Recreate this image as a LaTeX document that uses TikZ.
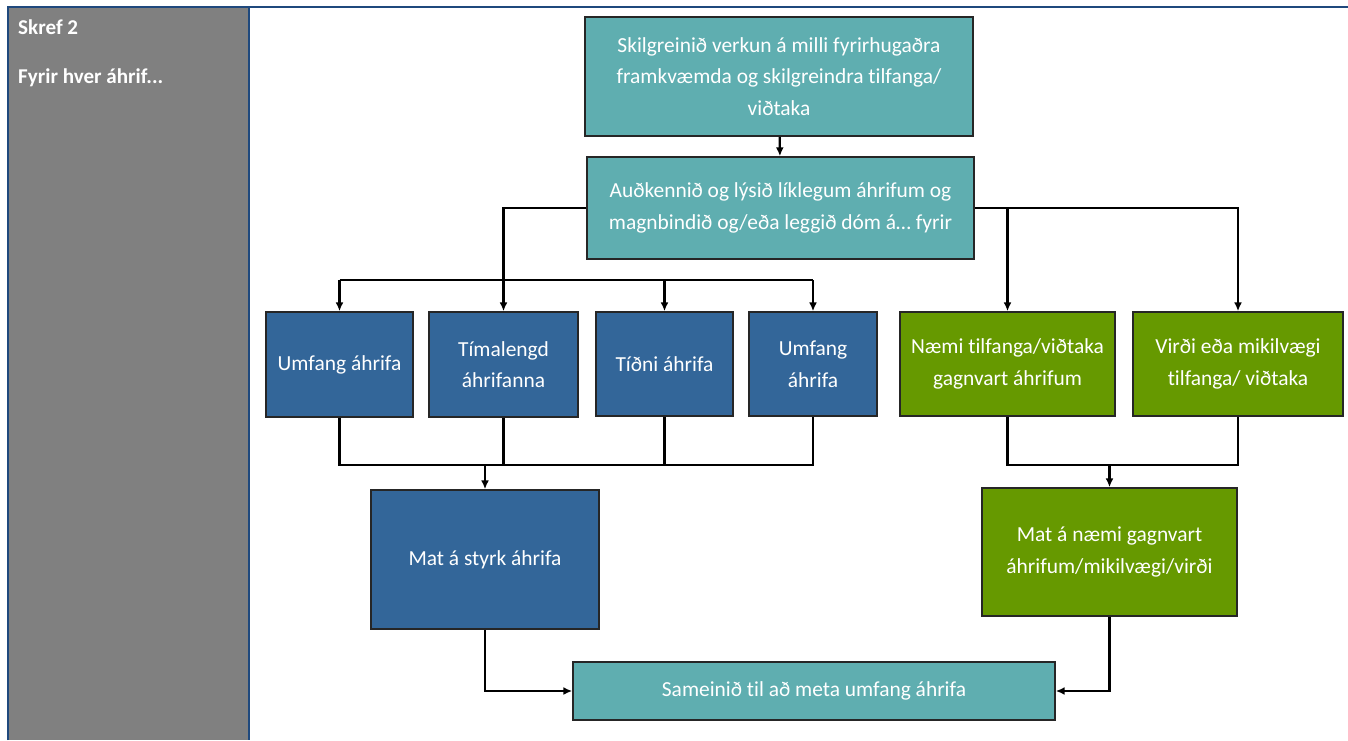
\documentclass[tikz,border=0pt]{standalone}
\usepackage{fontspec}
\setmainfont{Carlito}[RawFeature={-liga}]
\usepackage{tikz}
\usetikzlibrary{arrows.meta, positioning, calc}
\definecolor{matteal}{HTML}{5FAEB0}
\definecolor{matblue}{HTML}{336699}
\definecolor{matgreen}{HTML}{669900}
\definecolor{matgrey}{HTML}{808080}
\definecolor{matframe}{HTML}{1F497D}

\tikzset{
  box/.style={draw=black!85, line width=0.9pt, text=white, align=center,
    inner sep=2pt, font=\fontsize{12.2}{18}\selectfont},
  tealbox/.style={box, fill=matteal},
  bluebox/.style={box, fill=matblue},
  greenbox/.style={box, fill=matgreen},
  link/.style={black, line width=1.3pt},
  arr/.style={link, -{Latex[length=5pt, width=4.5pt]}},
  celltext/.style={text=white, anchor=base west, font=\fontsize{12}{14}\selectfont\bfseries}
}

\begin{document}
\begin{tikzpicture}[x=0.02cm, y=-0.02cm]
  \useasboundingbox (0,0) rectangle (1348,740);

  % table cell on the left
  \fill[matgrey] (8,7) rectangle (249,740);
  \draw[matframe, line width=1.2pt] (8,740) -- (8,7) -- (1348,7);
  \draw[matframe, line width=1.2pt] (249,7) -- (249,740);
  \node[celltext] (skref) at (12,35) {Skref 2};
  \node[celltext] (fyrir) at (12,84) {Fyrir hver áhrif...};

  % top of the flow
  \node[tealbox, minimum width=388*0.02cm, minimum height=119*0.02cm] (skil) at (779,76.5)
    {Skilgreinið verkun á milli fyrirhugaðra\\framkvæmda og skilgreindra tilfanga/\\viðtaka};
  \node[tealbox, minimum width=387*0.02cm, minimum height=102*0.02cm] (aud) at (780.5,208)
    {Auðkennið og lýsið líklegum áhrifum og\\magnbindið og/eða leggið dóm á\ldots{} fyrir};

  % the four blue factors
  \node[bluebox, minimum width=147*0.02cm, minimum height=105*0.02cm] (umf) at (339.5,364.5) {Umfang áhrifa};
  \node[bluebox, minimum width=149*0.02cm, minimum height=105*0.02cm] (tima) at (503.5,364.5) {Tímalengd\\áhrifanna};
  \node[bluebox, minimum width=137*0.02cm, minimum height=104*0.02cm] (tidni) at (664.5,364) {Tíðni áhrifa};
  \node[bluebox, minimum width=128*0.02cm, minimum height=104*0.02cm] (umfb) at (813,364) {Umfang\\áhrifa};

  % the two green factors
  \node[greenbox, minimum width=215*0.02cm, minimum height=104*0.02cm] (naem) at (1007.5,364) {Næmi tilfanga/viðtaka\\gagnvart áhrifum};
  \node[greenbox, minimum width=210*0.02cm, minimum height=104*0.02cm] (virdi) at (1238,364) {Virði eða mikilvægi\\tilfanga/ viðtaka};

  % assessments
  \node[bluebox, minimum width=228*0.02cm, minimum height=139*0.02cm] (styrk) at (485,559.5) {Mat á styrk áhrifa};
  \node[greenbox, minimum width=255*0.02cm, minimum height=128*0.02cm] (matn) at (1109.5,552) {Mat á næmi gagnvart\\áhrifum/mikilvægi/virði};
  \node[tealbox, minimum width=482*0.02cm, minimum height=58*0.02cm] (samein) at (814,691) {Sameinið til að meta umfang áhrifa};

  \coordinate (busT) at (0,280);
  \coordinate (busB) at (0,465);

  % connectors
  \draw[arr] (skil) -- (aud);
  \draw[arr] (aud.west) -| (tima.north);
  \draw[link] (umf.north |- busT) -- (umfb.north |- busT);
  \foreach \n in {umf, tidni, umfb}
    \draw[arr] (\n.north |- busT) -- (\n.north);
  \draw[arr] (aud.east) -| (virdi.north);
  \draw[arr] (naem.north |- aud.east) -- (naem.north);

  \draw[link] (umf.south) |- (umfb.south |- busB) -- (umfb.south);
  \foreach \n in {tima, tidni}
    \draw[link] (\n.south) -- (\n.south |- busB);
  \draw[arr] (styrk.north |- busB) -- (styrk.north);

  \draw[link] (naem.south) |- (virdi.south |- busB) -- (virdi.south);
  \draw[arr] (matn.north |- busB) -- (matn.north);

  \draw[arr] (styrk.south) |- (samein.west);
  \draw[arr] (matn.south) |- (samein.east);
\end{tikzpicture}
\end{document}
